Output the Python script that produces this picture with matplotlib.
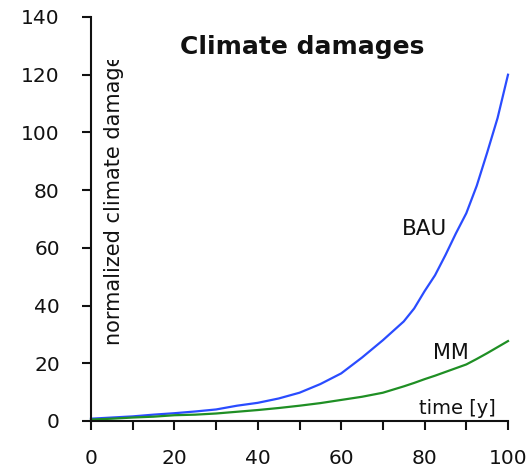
import matplotlib
matplotlib.use("Agg")
import matplotlib.pyplot as plt
from matplotlib.patches import Rectangle

# time axis in years
years = [0, 5, 10, 15, 20, 25, 30, 35, 40, 45, 50,
         55, 60, 65, 70, 75, 77.5, 80, 82.5, 85, 87.5, 90,
         92.5, 95, 97.5, 100]
# business-as-usual damages
bau = [0.8, 1.2, 1.6, 2.2, 2.7, 3.3, 4.0, 5.3, 6.3, 7.8, 9.8,
       12.8, 16.5, 22.0, 28.0, 34.5, 39.0, 45.0, 50.5, 57.5, 65.0, 72.0,
       81.5, 93.0, 105.0, 120.0]
# mitigation-measures damages
mm = [0.5, 0.8, 1.2, 1.5, 2.0, 2.2, 2.6, 3.2, 3.8, 4.5, 5.3,
      6.2, 7.3, 8.4, 9.8, 12.0, 13.2, 14.5, 15.7, 17.0, 18.3, 19.6,
      21.5, 23.5, 25.6, 27.7]

x_major = [0, 20, 40, 60, 80, 100]
x_minor = [10, 30, 50, 70, 90]
y_ticks = [0, 20, 40, 60, 80, 100, 120, 140]

plt.rcParams['font.family'] = ['DejaVu Sans']

fig = plt.figure(figsize=(5.26, 4.68), dpi=100)
ax = fig.add_axes([91 / 526, 1 - 421 / 468, (508 - 91) / 526, (421 - 17) / 468])

ax.plot(years, bau, color='#2a4cff', lw=1.6, clip_on=False)
ax.plot(years, mm, color='#1f8f24', lw=1.6, clip_on=False)

ax.set_xlim(0, 100)
ax.set_ylim(0, 140)
ax.set_xticks(x_major)
ax.set_xticks(x_minor, minor=True)
ax.set_yticks(y_ticks)

for s in ('top', 'right'):
    ax.spines[s].set_visible(False)
for s in ('left', 'bottom'):
    ax.spines[s].set_linewidth(1.5)
    ax.spines[s].set_color('#111111')

ax.tick_params(axis='both', which='both', direction='out', length=6.5,
               width=1.5, colors='#111111', labelsize=14.5)
ax.tick_params(axis='y', pad=16)
ax.tick_params(axis='x', pad=14)

ax.text(302, 468 - 47, 'Climate damages', transform=None,
        ha='center', va='center', fontsize=18, fontweight='bold',
        color='#111111')
ax.text(424, 468 - 229, 'BAU', transform=None, ha='center', va='center',
        fontsize=15.5, color='#111111')
ax.text(451, 468 - 353, 'MM', transform=None, ha='center', va='center',
        fontsize=15, color='#111111')
ax.text(457, 468 - 408, 'time [y]', transform=None, ha='center', va='center',
        fontsize=14, color='#111111')

# rotated axis caption, cut off near the top of the plot
lab = ax.text(114, 468 - 345, 'normalized climate damages', transform=None,
              rotation=90, ha='center', va='bottom', fontsize=15,
              color='#111111')
clip = Rectangle((95, 468 - 420), 40, 420 - 60, transform=None,
                 facecolor='none', edgecolor='none')
fig.add_artist(clip)
lab.set_clip_path(clip)
lab.set_clip_on(True)

fig.savefig('out.png', dpi=100)
